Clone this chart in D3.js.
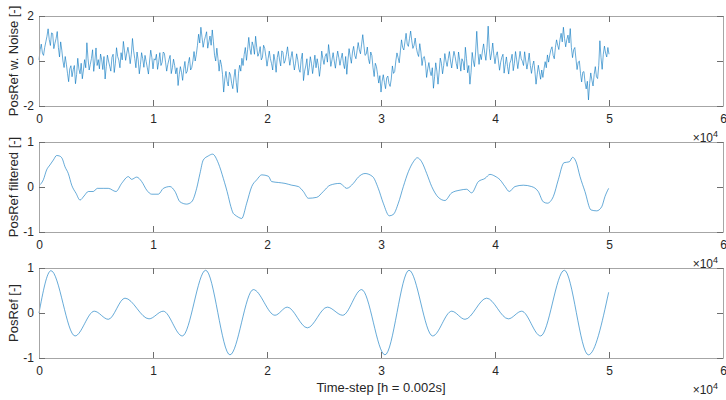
<!DOCTYPE html>
<html>
<head>
<meta charset="utf-8">
<script src="https://cdn.jsdelivr.net/npm/d3@7"></script>
<style>
  body { margin: 0; background: #fff; }
  svg { display: block; font-family: "Liberation Sans", Arial, Helvetica, sans-serif; }
  .axis text { fill: #262626; font-size: 12px; }
  .axis path { stroke: #a6a6a6; }
  .axis line { stroke: #6e6e6e; }
</style>
</head>
<body>
<script>
const width = 726;
const height = 400;

// x ticks (time-step, shown as x10^4)
const xTicks = [0, 10000, 20000, 30000, 40000, 50000, 60000];

// PosRef with noise, one sample every noiseStep time-steps
const noiseStep = 100;
const noisePosRef = [
  0.05, 0.5, 0.75, 0.35, 0.25, 0.6, 0.85, 1.1, 1.43, 0.95, 0.69, 1.25, 1.22, 0.55, 0.79, 1.0, 1.31, 0.6, 0.18, 0.85,
  0.48, 0.0, -0.29, 0.2, -0.14, -0.55, -0.92, -0.35, -0.21, -0.7, -0.39, -0.2, -1.01, -0.6, 0.12, -0.35, -0.57, -0.1, -0.79, -0.4,
  0.06, -0.3, 0.81, 0.1, -0.4, -0.15, 0.11, 0.5, -0.46, 0.0, 0.58, -0.2, 0.06, -0.35, 0.31, 0.05, -0.38, 0.2, -0.8, -0.25,
  0.26, 0.0, -0.23, -0.45, 0.16, 0.3, -0.51, -0.1, 0.59, 0.2, 0.04, -0.3, 0.37, 0.05, 0.87, 0.45, 0.03, 0.35, 0.61, 0.3,
  -0.12, 0.3, 1.0, 0.45, 0.11, -0.3, 0.4, 0.05, -0.57, -0.15, 0.37, 0.1, -0.28, 0.25, -0.02, -0.3, -0.58, 0.0, 0.48, 0.15,
  -0.35, 0.1, 0.04, 0.3, -0.37, -0.05, 0.37, -0.2, -0.06, 0.4, 0.34, -0.05, -0.45, -0.15, 0.07, 0.25, -0.56, -0.3, 0.08, -0.2,
  -0.57, -0.3, -1.09, -0.6, -0.25, -0.5, -0.86, -0.35, -0.02, -0.55, -0.46, -0.1, 0.16, -0.4, -0.29, 0.0, 0.42, 0.0, 0.29, 0.7,
  1.19, 0.8, 1.5, 1.05, 0.61, 0.9, 1.1, 1.3, 0.57, 0.85, 1.11, 0.7, 1.38, 0.85, 0.25, 0.0, 0.57, 0.1, -0.45, 0.05,
  -0.16, -0.6, -1.38, -0.8, -0.46, -0.9, -1.11, -0.5, -0.63, -1.0, -1.23, -0.75, -0.37, -0.95, -1.4, -0.55, -0.19, -0.45, 0.12, -0.2,
  0.29, 0.6, 0.03, 0.5, 1.05, 0.55, 0.29, 0.85, 0.67, 0.3, 1.1, 0.6, 0.21, 0.35, 0.64, 0.05, 0.16, 0.7, 0.56, 0.2,
  -0.23, 0.1, 0.44, 0.1, -0.12, -0.4, 0.3, 0.0, -0.5, 0.15, 0.43, 0.05, -0.22, 0.45, 0.38, -0.1, 0.02, 0.3, 0.63, 0.2,
  -0.19, 0.15, 0.42, 0.0, -0.4, -0.1, 0.32, 0.05, -0.36, -0.5, 0.07, 0.35, -0.87, -0.45, -0.22, 0.1, -0.63, -0.3, 0.19, -0.1,
  -0.56, -0.15, 0.26, -0.3, 0.1, -0.2, -0.68, -0.25, 0.44, 0.1, -0.15, 0.2, 0.33, -0.05, 0.73, 0.3, -0.24, 0.05, 0.37, 0.0,
  -0.32, 0.1, 0.44, 0.15, -0.19, 0.1, 0.35, -0.1, -0.34, 0.2, -0.59, 0.05, 0.55, 0.2, -0.1, 0.4, 0.65, 0.25, 0.1, 0.45,
  0.82, 0.5, 0.32, 0.75, 1.17, 0.7, 0.25, 0.3, 0.62, 0.1, -0.12, 0.4, 0.24, -0.3, -0.69, -0.1, -0.25, -0.6, -0.98, -0.65,
  -1.38, -0.9, -0.61, -0.95, -1.23, -0.75, -0.67, -1.0, -1.13, -0.8, -0.22, -0.55, -0.47, 0.0, 0.36, 0.15, -0.08, 0.45, 0.94, 0.6,
  0.49, 0.85, 1.23, 0.75, 0.65, 1.0, 1.33, 0.9, 0.56, 0.7, 1.02, 0.6, 0.34, 0.2, 0.77, 0.4, -0.2, 0.15, 0.2, -0.1,
  -0.73, -0.35, -0.07, -0.45, -0.65, -0.3, -1.21, -0.7, -0.08, -0.45, -1.03, -0.5, 0.13, -0.1, -0.57, -0.2, 0.33, 0.0, -0.24, 0.1,
  0.42, 0.0, -0.31, 0.1, 0.43, 0.2, -0.11, -0.35, 0.4, 0.05, -0.45, 0.1, -0.03, -0.4, 0.61, 0.1, -0.52, -0.2, -1.03, -0.5,
  0.38, 0.0, -0.25, 0.4, 1.32, 0.4, -0.15, 0.3, 0.06, 0.45, 0.76, 0.35, 0.03, 0.6, 1.55, 0.55, 0.05, 0.35, 0.8, 0.25,
  -0.12, 0.25, 0.41, 0.0, -0.41, -0.05, 0.17, 0.3, -0.54, -0.15, 0.18, -0.25, -0.58, -0.1, 0.04, 0.3, -0.43, -0.1, 0.42, 0.05,
  -0.34, 0.05, 0.43, 0.1, -0.01, -0.2, 0.41, 0.0, -0.36, -0.05, 0.35, -0.2, -0.55, -0.2, 0.0, -0.45, -1.03, -0.6, -0.19, -0.5,
  -0.81, -0.4, -0.73, -0.35, -0.03, -0.3, 0.27, -0.05, 0.26, 0.5, 0.63, 0.25, 0.1, 0.6, 0.94, 0.7, 0.51, 0.95, 1.23, 0.85,
  1.5, 1.0, 0.63, 0.95, 1.15, 0.8, 1.44, 0.6, 0.15, 0.5, 0.6, 0.1, -0.38, -0.05, 0.0, -0.55, -0.93, -0.5, -0.47, -0.95,
  -1.24, -0.9, -1.73, -1.0, -0.53, -0.85, -1.11, -0.6, -0.25, -0.7, -0.78, -0.2, 0.9, 0.15, -0.37, 0.3, 0.66, 0.35, 0.18, 0.6,
  0.3
];

// PosRef filtered
const filteredT = [
  0, 380, 670, 960, 1260, 1550, 1780, 2020, 2280, 2570,
  2870, 3250, 3600, 3950, 4330, 4760, 5120, 5640, 6080, 6750,
  7250, 7840, 8130, 8570, 9010, 9450, 9890, 10470, 10910, 11490,
  11930, 12370, 12950, 13390, 13830, 14120, 14410, 14850, 15230, 15730,
  16170, 16610, 16750, 17050, 17190, 17480, 17780, 18220, 18660, 19100,
  19540, 20120, 20410, 21000, 21580, 22170, 22750, 23190, 23630, 24360,
  24940, 25530, 26400, 26990, 27570, 28010, 28600, 29270, 29760, 30200,
  30730, 31080, 31520, 31960, 32400, 32840, 33180, 33570, 34010, 34450,
  35030, 35610, 36200, 36930, 37510, 37950, 38540, 39120, 39560, 40000,
  40440, 40880, 41250, 41750, 42480, 43210, 43790, 44240, 44590, 45120,
  45550, 46050, 46520, 46810, 47110, 47460, 47890, 48420, 48920, 49360,
  49650, 49970
];
const filteredV = [
  0.03, 0.16, 0.38, 0.49, 0.6, 0.7, 0.69, 0.64, 0.45, 0.3,
  0.04, -0.14, -0.29, -0.2, -0.1, -0.1, -0.03, -0.03, -0.03, -0.1,
  0.08, 0.23, 0.17, 0.22, 0.12, -0.07, -0.16, -0.16, -0.03, 0.01,
  -0.1, -0.33, -0.38, -0.33, -0.03, 0.3, 0.6, 0.69, 0.73, 0.53,
  0.19, -0.21, -0.36, -0.59, -0.62, -0.67, -0.7, -0.36, 0.01, 0.16,
  0.27, 0.24, 0.12, 0.1, 0.08, 0.04, 0.01, -0.1, -0.25, -0.23,
  -0.1, 0.04, 0.08, -0.03, 0.08, 0.22, 0.3, 0.23, -0.03, -0.36,
  -0.64, -0.61, -0.36, 0.01, 0.34, 0.56, 0.65, 0.56, 0.3, 0.01,
  -0.23, -0.3, -0.13, -0.07, -0.05, -0.13, 0.12, 0.19, 0.28, 0.24,
  0.16, 0.01, -0.1, 0.01, 0.04, 0.01, -0.1, -0.33, -0.36, -0.21,
  0.16, 0.54, 0.56, 0.66, 0.56, 0.23, -0.1, -0.51, -0.53, -0.44,
  -0.21, -0.03
];

// PosRef (clean reference), turning points
const posRefT = [
  0, 1050, 3160, 4850, 6080, 7540, 9650, 10900, 12570, 14620,
  16750, 18800, 20700, 21780, 23540, 25290, 26640, 28300, 30350, 32460,
  34530, 36200, 37370, 39270, 41170, 42340, 44000, 46080, 48190, 49970
];
const posRefV = [
  0, 0.94, -0.51, 0.04, -0.14, 0.33, -0.13, 0.04, -0.51, 0.95,
  -0.93, 0.52, -0.05, 0.13, -0.33, 0.13, -0.05, 0.52, -0.93, 0.95,
  -0.51, 0.04, -0.14, 0.33, -0.13, 0.04, -0.51, 0.95, -0.93, 0.46
];

const panels = [
  { top: 16, bottom: 106, domain: [-2, 2], ticks: [-2, 0, 2], label: "PosRef w. Noise [-]",
    data: noisePosRef.map((v, i) => [i * noiseStep, v]), curve: d3.curveLinear, lw: 0.6 },
  { top: 142, bottom: 232, domain: [-1, 1], ticks: [-1, 0, 1], label: "PosRef filtered [-]",
    data: filteredT.map((t, i) => [t, filteredV[i]]), curve: d3.curveMonotoneX, lw: 0.6 },
  { top: 268, bottom: 358, domain: [-1, 1], ticks: [-1, 0, 1], label: "PosRef [-]",
    data: posRefT.map((t, i) => [t, posRefV[i]]), curve: d3.curveMonotoneX, lw: 0.6 }
];

const left = 39, right = 723;

const svg = d3.select("body").append("svg")
  .attr("width", width)
  .attr("height", height);

const x = d3.scaleLinear().domain([0, 60000]).range([left, right]);

panels.forEach(function(p) {
  const y = d3.scaleLinear().domain(p.domain).range([p.bottom, p.top]);

  svg.append("path")
    .datum(p.data)
    .attr("fill", "none")
    .attr("stroke", "#0072bd")
    .attr("stroke-width", p.lw)
    .attr("d", d3.line().x(d => x(d[0])).y(d => y(d[1])).curve(p.curve));

  svg.append("g").attr("class", "axis")
    .attr("transform", `translate(0,${p.bottom})`)
    .call(d3.axisBottom(x).tickValues(xTicks).tickFormat(d => d / 10000)
      .tickSizeInner(-6).tickSizeOuter(0).tickPadding(8));

  svg.append("g").attr("class", "axis")
    .attr("transform", `translate(0,${p.top})`)
    .call(d3.axisTop(x).tickValues(xTicks).tickFormat("")
      .tickSizeInner(-6).tickSizeOuter(0));

  // plain hyphen minus, like the original
  svg.append("g").attr("class", "axis")
    .attr("transform", `translate(${left},0)`)
    .call(d3.axisLeft(y).tickValues(p.ticks).tickFormat(d => String(d))
      .tickSizeInner(-6).tickSizeOuter(0).tickPadding(5));

  svg.append("g").attr("class", "axis")
    .attr("transform", `translate(${right},0)`)
    .call(d3.axisRight(y).tickValues(p.ticks).tickFormat("")
      .tickSizeInner(-6).tickSizeOuter(0));

  svg.append("text")
    .attr("transform", `translate(18,${(p.top + p.bottom) / 2}) rotate(-90)`)
    .attr("text-anchor", "middle")
    .style("font-size", "13px")
    .style("fill", "#262626")
    .text(p.label);

  // x10^4 exponent label
  svg.append("text")
    .attr("x", 713)
    .attr("y", p.bottom + 36)
    .attr("text-anchor", "end")
    .style("font-size", "12px")
    .style("fill", "#262626")
    .text("\u00d710");
  svg.append("text")
    .attr("x", 713)
    .attr("y", p.bottom + 31)
    .style("font-size", "9px")
    .style("fill", "#262626")
    .text("4");
});

svg.append("text")
  .attr("x", (left + right) / 2)
  .attr("y", 392)
  .attr("text-anchor", "middle")
  .style("font-size", "13px")
  .style("fill", "#262626")
  .text("Time-step [h = 0.002s]");
</script>
</body>
</html>
